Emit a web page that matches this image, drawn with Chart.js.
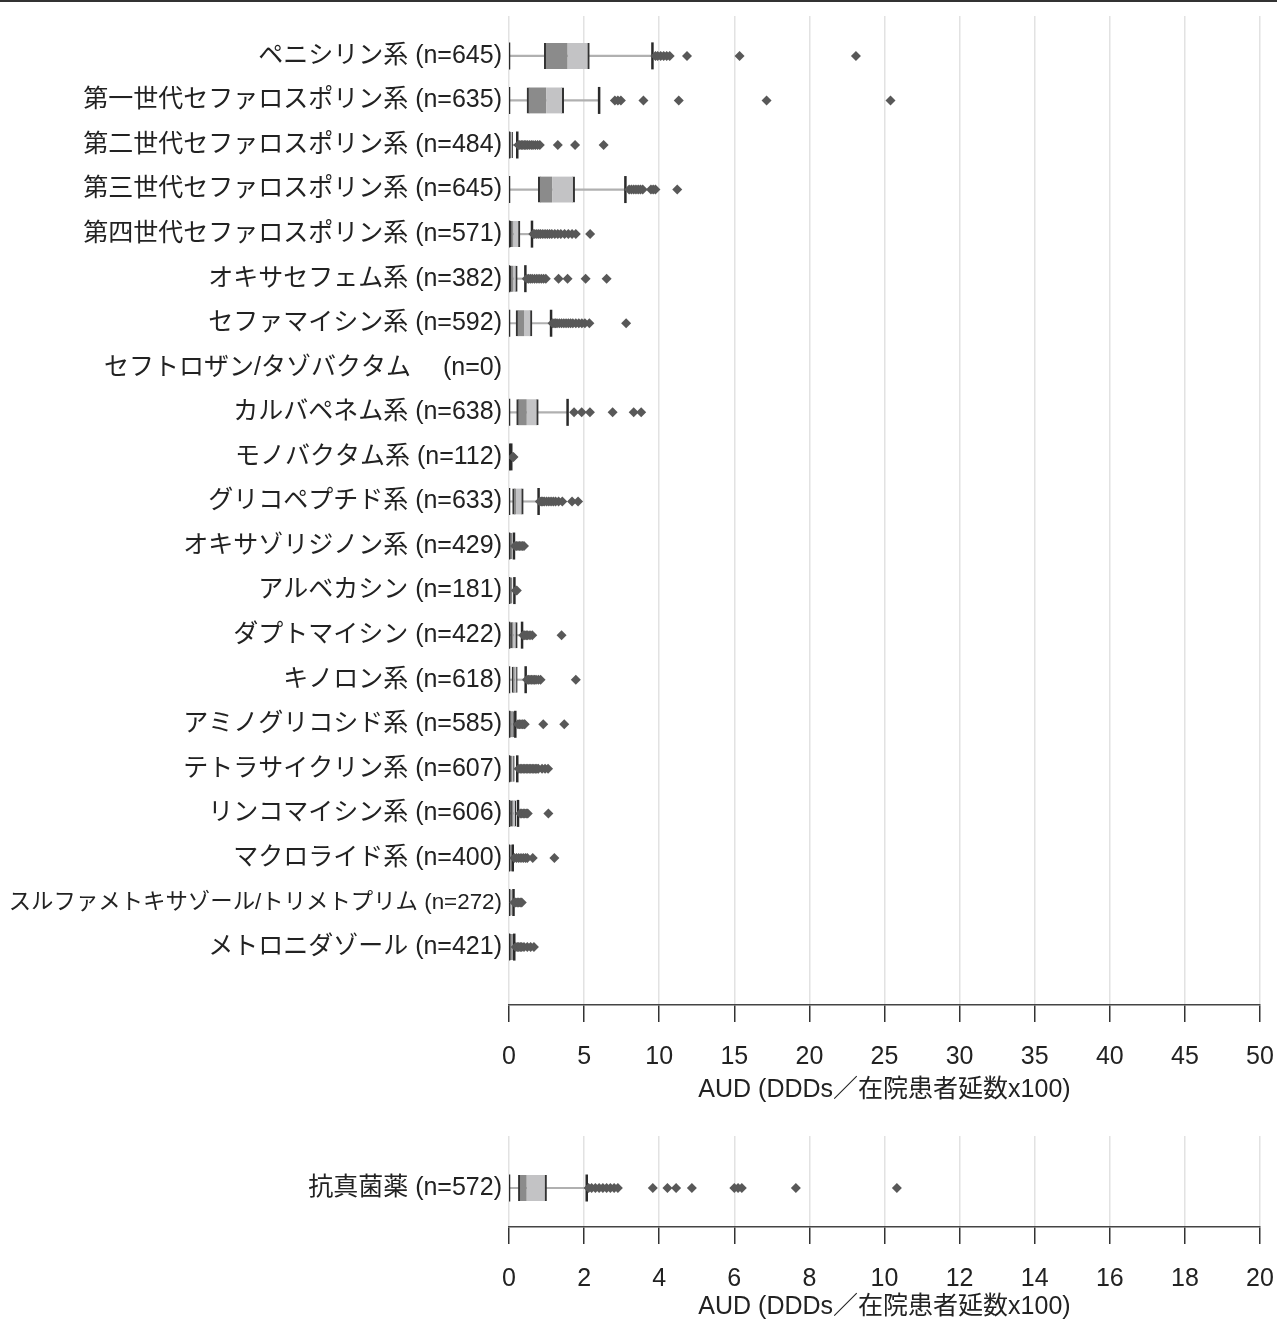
<!DOCTYPE html>
<html lang="ja">
<head>
<meta charset="utf-8">
<script src="https://cdn.jsdelivr.net/npm/chart.js@4.4.1/dist/chart.umd.min.js"></script>
<style>
  body { margin: 0; background: #fff; width: 1277px; height: 1326px; overflow: hidden; position: relative; }
  #topRule { position: absolute; left: 0; top: 0; width: 1277px; height: 2px; background: #333; }
  #mainWrap { position: absolute; left: 0; top: 0; width: 1277px; height: 1109px; }
  #fungWrap { position: absolute; left: 0; top: 1109px; width: 1277px; height: 217px; }
</style>
</head>
<body>
<div id="mainWrap"><canvas id="mainChart"></canvas></div>
<div id="fungWrap"><canvas id="fungChart"></canvas></div>
<div id="topRule"></div>
<script>
const FONT = '"Liberation Sans Narrow", "Arial Narrow", "Liberation Sans", "Noto Sans CJK JP", sans-serif'
const AXIS_TITLE = 'AUD (DDDs／在院患者延数x100)'

// antibacterial classes, top chart
const drugLabels = [
  'ペニシリン系 (n=645)',
  '第一世代セファロスポリン系 (n=635)',
  '第二世代セファロスポリン系 (n=484)',
  '第三世代セファロスポリン系 (n=645)',
  '第四世代セファロスポリン系 (n=571)',
  'オキサセフェム系 (n=382)',
  'セファマイシン系 (n=592)',
  'セフトロザン/タゾバクタム　 (n=0)',
  'カルバペネム系 (n=638)',
  'モノバクタム系 (n=112)',
  'グリコペプチド系 (n=633)',
  'オキサゾリジノン系 (n=429)',
  'アルベカシン (n=181)',
  'ダプトマイシン (n=422)',
  'キノロン系 (n=618)',
  'アミノグリコシド系 (n=585)',
  'テトラサイクリン系 (n=607)',
  'リンコマイシン系 (n=606)',
  'マクロライド系 (n=400)',
  'スルファメトキサゾール/トリメトプリム (n=272)',
  'メトロニダゾール (n=421)',
]
const drugMin    = [0, 0, 0, 0, 0, 0, 0, null, 0, 0, 0, 0, 0, 0, 0, 0, 0, 0, 0, 0, 0]
const drugQ1     = [2.35, 1.2, 0.05, 1.95, 0.05, 0.03, 0.47, null, 0.51, 0.02, 0.24, 0.03, 0.03, 0.1, 0.2, 0.03, 0.05, 0.1, 0.02, 0.02, 0.05]
const drugMedian = [3.9, 2.48, 0.12, 2.88, 0.3, 0.3, 1.0, null, 1.18, 0.05, 0.47, 0.1, 0.1, 0.3, 0.38, 0.15, 0.2, 0.3, 0.08, 0.08, 0.15]
const drugQ3     = [5.35, 3.64, 0.24, 4.37, 0.73, 0.55, 1.53, null, 1.95, 0.1, 0.95, 0.2, 0.2, 0.55, 0.55, 0.3, 0.35, 0.45, 0.15, 0.15, 0.3]
const drugMax    = [9.55, 6.0, 0.55, 7.75, 1.53, 1.09, 2.8, null, 3.9, 0.15, 1.97, 0.33, 0.36, 0.87, 1.11, 0.42, 0.55, 0.6, 0.25, 0.3, 0.35]
const drugOutliers = [
  [9.75, 9.9, 10.1, 10.3, 10.5, 10.7, 11.85, 15.35, 23.1],
  [7.05, 7.25, 7.45, 8.95, 11.3, 17.15, 25.4],
  [0.62, 0.72, 0.82, 0.92, 1.02, 1.12, 1.22, 1.35, 1.48, 1.6, 1.75, 1.9, 2.05, 3.25, 4.4, 6.3],
  [8.0, 8.15, 8.3, 8.45, 8.6, 8.75, 8.9, 9.45, 9.6, 9.75, 11.2],
  [1.62, 1.72, 1.85, 1.98, 2.1, 2.25, 2.4, 2.55, 2.7, 2.85, 3.05, 3.25, 3.45, 3.7, 3.95, 4.2, 4.45, 5.4],
  [1.18, 1.3, 1.42, 1.55, 1.7, 1.85, 2.0, 2.15, 2.3, 2.45, 3.3, 3.9, 5.1, 6.5],
  [2.9, 3.0, 3.1, 3.2, 3.35, 3.5, 3.65, 3.8, 3.95, 4.1, 4.25, 4.45, 4.65, 4.85, 5.05, 5.35, 7.8],
  [],
  [4.33, 4.84, 5.39, 6.9, 8.3, 8.8],
  [0.25, 0.3],
  [2.05, 2.15, 2.25, 2.35, 2.5, 2.65, 2.8, 2.95, 3.1, 3.3, 3.55, 4.2, 4.6],
  [0.4, 0.5, 0.6, 0.7, 0.8, 0.9, 1.0],
  [0.45, 0.52],
  [0.95, 1.05, 1.15, 1.25, 1.4, 1.55, 3.5],
  [1.2, 1.3, 1.4, 1.5, 1.6, 1.7, 1.8, 1.95, 2.1, 4.45],
  [0.6, 0.7, 0.8, 0.9, 1.0, 1.05, 2.28, 3.68],
  [0.65, 0.75, 0.85, 0.95, 1.05, 1.15, 1.25, 1.35, 1.45, 1.55, 1.65, 1.75, 1.85, 1.95, 2.2, 2.4, 2.6],
  [0.75, 0.85, 0.95, 1.05, 1.15, 1.25, 2.62],
  [0.35, 0.5, 0.65, 0.8, 0.95, 1.1, 1.22, 1.58, 3.02],
  [0.35, 0.45, 0.55, 0.65, 0.75, 0.85],
  [0.45, 0.55, 0.65, 0.75, 0.85, 1.0, 1.22, 1.44, 1.66],
]

// antifungals, bottom chart
const fungLabels   = ['抗真菌薬 (n=572)']
const fungMin      = [0]
const fungQ1       = [0.25]
const fungMedian   = [0.47]
const fungQ3       = [1.0]
const fungMax      = [2.07]
const fungOutliers = [[2.12, 2.2, 2.3, 2.4, 2.5, 2.6, 2.7, 2.8, 2.9, 3.83, 4.22, 4.45, 4.87, 6.0, 6.1, 6.2, 7.64, 10.33]]

Chart.defaults.font.family = FONT

function boxDatasets(mins, q1s, medians, q3s, maxs, outliers) {
  const rows = mins.map((m, i) => i).filter(i => mins[i] !== null)
  return [
    {
      type: 'scatter', label: 'outliers', order: 0,
      data: rows.flatMap(i => outliers[i].map(v => ({x: v, y: i}))),
      pointStyle: 'rectRot', pointRadius: 5, pointBorderWidth: 0,
      pointBackgroundColor: '#585858',
    },
    {
      type: 'scatter', label: 'caps', order: 1,
      data: rows.flatMap(i => [{x: mins[i], y: i}, {x: maxs[i], y: i}]),
      pointStyle: 'line', pointRotation: 90, pointRadius: 13.5,
      pointBorderColor: '#2a2a2a', pointBorderWidth: 2.5,
    },
    {
      type: 'bar', label: 'lower', order: 2, indexAxis: 'y', grouped: false,
      data: rows.map(i => ({x: [q1s[i], medians[i]], y: i})),
      backgroundColor: '#8b8b8b', borderColor: '#333',
      borderWidth: {left: 2}, borderSkipped: false, barThickness: 26,
    },
    {
      type: 'bar', label: 'upper', order: 2, indexAxis: 'y', grouped: false,
      data: rows.map(i => ({x: [medians[i], q3s[i]], y: i})),
      backgroundColor: '#c3c3c5', borderColor: '#333',
      borderWidth: {right: 2}, borderSkipped: false, barThickness: 26,
    },
    {
      type: 'bar', label: 'whisker', order: 3, indexAxis: 'y', grouped: false,
      data: rows.map(i => ({x: [mins[i], maxs[i]], y: i})),
      backgroundColor: '#b0b0b0', barThickness: 1.5,
    },
  ]
}

function makeOptions(labels, yMin, yMax, xMax, xStep, axisHeight, padTop) {
  return {
    indexAxis: 'y',
    responsive: true,
    maintainAspectRatio: false,
    animation: false,
    layout: {padding: {top: padTop, right: 17, bottom: 0, left: 0}},
    plugins: {legend: {display: false}, tooltip: {enabled: false}},
    scales: {
      x: {
        type: 'linear', min: 0, max: xMax,
        ticks: {stepSize: xStep, autoSkip: false, maxRotation: 0, padding: 20, color: '#222', font: {size: 25}},
        grid: {color: '#e2e2e2', lineWidth: 1.5, tickLength: 17, tickColor: '#333', tickWidth: 1.5},
        border: {color: '#444', width: 1.5},
        title: {display: true, text: AXIS_TITLE, color: '#222', font: {size: 25}, padding: {top: 0, bottom: 4}},
        afterFit: function(scale) {
          scale.height = axisHeight
          scale.paddingLeft = 0
          scale.paddingRight = 0
        },
      },
      y: {
        type: 'linear', reverse: true, offset: false, min: yMin, max: yMax,
        afterBuildTicks: function(scale) {
          scale.ticks = labels.map(function(l, i) { return {value: i} })
        },
        ticks: {
          autoSkip: false, padding: 7, color: '#222',
          // the long ST label is squeezed to fit left of the axis
          font: function(c) { return {size: labels[c.index] && labels[c.index].length > 24 ? 22.4 : 25} },
          callback: function(value) { return labels[value] },
        },
        grid: {display: false, drawTicks: false},
        border: {display: false},
        afterFit: function(scale) {
          scale.width = 509
          scale.paddingTop = 0
          scale.paddingBottom = 0
        },
      },
    },
  }
}

const mainChart = new Chart(document.getElementById('mainChart'), {
  type: 'bar',
  data: {datasets: boxDatasets(drugMin, drugQ1, drugMedian, drugQ3, drugMax, drugOutliers)},
  options: makeOptions(drugLabels, -0.895, 21.3, 50, 5, 104, 13),
})

const fungChart = new Chart(document.getElementById('fungChart'), {
  type: 'bar',
  data: {datasets: boxDatasets(fungMin, fungQ1, fungMedian, fungQ3, fungMax, fungOutliers)},
  options: makeOptions(fungLabels, -1.163, 0.872, 20, 2, 99, 27),
})
</script>
</body>
</html>
